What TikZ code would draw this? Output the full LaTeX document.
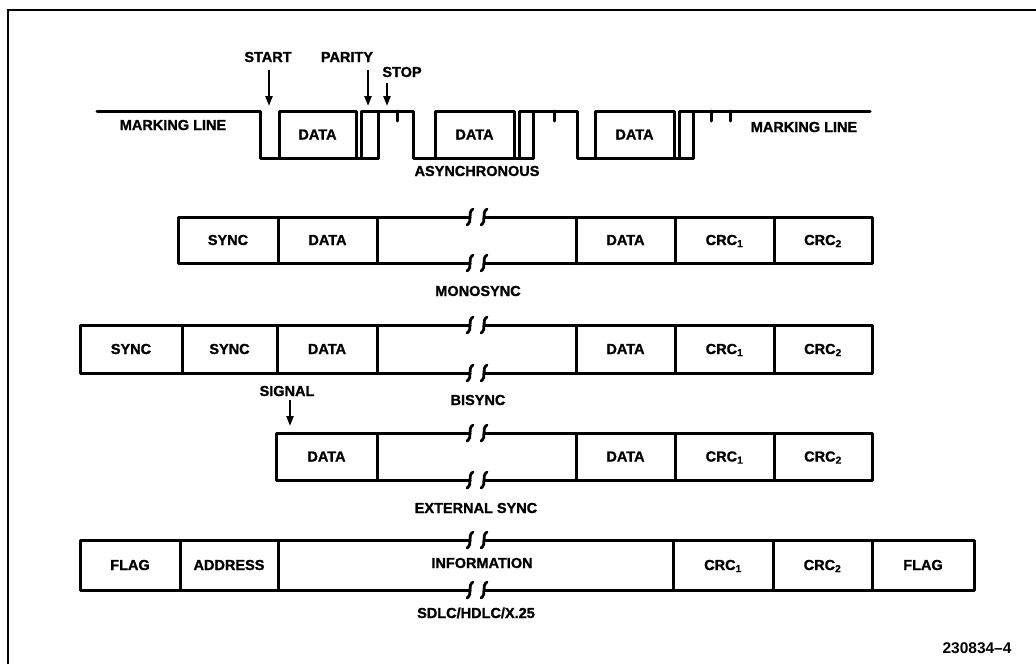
\documentclass[tikz,border=0pt]{standalone}
\usepackage{fontspec}
\setmainfont{Liberation Sans}
\newfontfamily\heavyfont{Liberation Sans Bold}[FakeBold=1.2]
\usetikzlibrary{arrows.meta}
\newcommand\fcell[6]{\node[cell, minimum width={(#3-#2)*1pt}, minimum height={(#5-#4)*1pt}] (#1) at ({(#2+#3)/2},{(#4+#5)/2}) {#6};}
\newcommand\brkline[3]{%
  \draw[ln] (#1,#3) -- (470,#3);
  \draw[ln] (484,#3) -- (#2,#3);
  \draw[brk] (473,#3-8) .. controls (467,#3-4) and (473,#3+4) .. (467,#3+8);
  \draw[brk] (487,#3-8) .. controls (481,#3-4) and (487,#3+4) .. (481,#3+8);}
\begin{document}
\begin{tikzpicture}[x=1pt,y=-1pt,
  ln/.style={line width=3pt, line join=round, line cap=round},
  brk/.style={line width=2.8pt, line cap=round},
  lbl/.style={font=\fontsize{14.5}{16}\heavyfont, inner sep=0pt, text height=10pt, text depth=0pt},
  cell/.style={draw, line width=3pt, line join=round, inner sep=0pt, outer sep=0pt,
    font=\fontsize{14.5}{16}\heavyfont, text height=10pt, text depth=0pt},
  arr/.style={line width=2.2pt, -{Triangle[length=10pt,width=7pt]}}
]
\useasboundingbox (0,0) rectangle (1036,664);
% frame
\draw[line width=2.8pt] (8,664) -- (8,10) -- (1036,10);

% ---------- asynchronous ----------
\draw[ln] (97,111) -- (260,111) -- (260,158) -- (378,158) -- (378,111) -- (413,111)
  -- (413,158) -- (533,158) -- (533,111) -- (577,111) -- (577,158) -- (693,158)
  -- (693,111) -- (870,111);
\fcell{ad1}{279}{356}{111}{158}{DATA}
\fcell{ap1}{361}{378}{111}{158}{}
\fcell{ad2}{435}{514}{111}{158}{DATA}
\fcell{ap2}{519}{533}{111}{158}{}
\fcell{ad3}{595}{674}{111}{158}{DATA}
\fcell{ap3}{679}{693}{111}{158}{}
\draw[ln] (397,111) -- (397,121);
\draw[ln] (554,111) -- (554,121);
\draw[ln] (711,111) -- (711,121);
\draw[ln] (730,111) -- (730,121);
\node[lbl] (mkl) at (173,125) {MARKING LINE};
\node[lbl] (mkr) at (804,127) {MARKING LINE};
\node[lbl] (async) at (477,171) {ASYNCHRONOUS};
\node[lbl] (start) at (268,57) {START};
\node[lbl] (parity) at (347,57) {PARITY};
\node[lbl] (stop) at (402,72) {STOP};
\coordinate (startTip) at (269,106);
\coordinate (parityTip) at (368,106);
\coordinate (stopTip) at (387,106);
\draw[arr, shorten <=8pt] (start.south -| startTip) -- (startTip);
\draw[arr, shorten <=8pt] (parity.south -| parityTip) -- (parityTip);
\draw[arr, shorten <=6pt] (stop.south -| stopTip) -- (stopTip);

% ---------- monosync ----------
\fcell{ms1}{178}{278}{217}{263}{SYNC}
\fcell{md1}{278}{377}{217}{263}{DATA}
\brkline{377}{576}{217}
\brkline{377}{576}{263}
\fcell{md2}{576}{675}{217}{263}{DATA}
\fcell{mc1}{675}{774}{217}{263}{CRC\textsubscript{1}}
\fcell{mc2}{774}{872}{217}{263}{CRC\textsubscript{2}}
\node[lbl] (mono) at (478,291) {MONOSYNC};

% ---------- bisync ----------
\fcell{bs1}{80}{182}{325}{373}{SYNC}
\fcell{bs2}{182}{277}{325}{373}{SYNC}
\fcell{bd1}{277}{377}{325}{373}{DATA}
\brkline{377}{576}{325}
\brkline{377}{576}{373}
\fcell{bd2}{576}{675}{325}{373}{DATA}
\fcell{bc1}{675}{774}{325}{373}{CRC\textsubscript{1}}
\fcell{bc2}{774}{872}{325}{373}{CRC\textsubscript{2}}
\node[lbl] (bisync) at (478,400) {BISYNC};

% ---------- external sync ----------
\node[lbl] (signal) at (287,391) {SIGNAL};
\coordinate (signalTip) at (290,426);
\draw[arr, shorten <=4pt] (signal.south -| signalTip) -- (signalTip);
\fcell{ed1}{276}{377}{433}{480}{DATA}
\brkline{377}{576}{433}
\brkline{377}{576}{480}
\fcell{ed2}{576}{675}{433}{480}{DATA}
\fcell{ec1}{675}{774}{433}{480}{CRC\textsubscript{1}}
\fcell{ec2}{774}{872}{433}{480}{CRC\textsubscript{2}}
\node[lbl] (ext) at (476,508) {EXTERNAL SYNC};

% ---------- SDLC ----------
\fcell{sf1}{80}{180}{540}{590}{FLAG}
\fcell{sa}{180}{278}{540}{590}{ADDRESS}
\brkline{278}{673}{540}
\brkline{278}{673}{590}
\node[lbl] (info) at (482,563) {INFORMATION};
\fcell{sc1}{673}{773}{540}{590}{CRC\textsubscript{1}}
\fcell{sc2}{773}{872}{540}{590}{CRC\textsubscript{2}}
\fcell{sf2}{872}{974}{540}{590}{FLAG}
\node[lbl] (sdlc) at (476,613) {SDLC/HDLC/X.25};

\node[lbl, font=\fontsize{15.5}{17}\selectfont\bfseries] (fig) at (977,648) {230834--4};
\end{tikzpicture}
\end{document}
